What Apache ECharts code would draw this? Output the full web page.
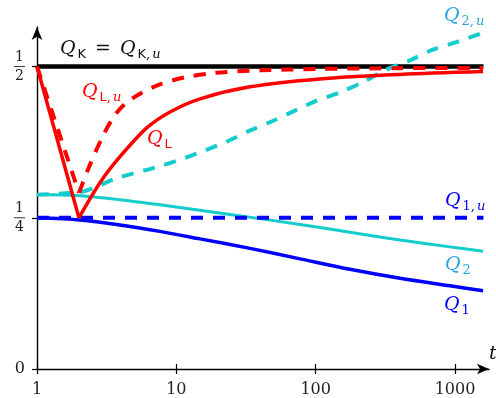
<!DOCTYPE html>
<html><head><meta charset="utf-8">
<script src="https://cdn.jsdelivr.net/npm/echarts@6/dist/echarts.min.js"></script>
<style>html,body{margin:0;padding:0;background:#fff}#c{width:496px;height:398px}</style>
</head><body><div id="c"></div>
<script>
// ---- data ----
const qkT = [1, 1600];
const qkY = [0.5, 0.5];
const q1uT = [1, 1600];
const q1uY = [0.25, 0.25];
const qlDownT = [1, 2];
const qlDownY = [0.5, 0.25];
const qlUpT = [2, 2.83, 3.94, 6.16, 9.01, 14.8, 33.8, 107, 403, 1590];
const qlUpY = [0.25, 0.308, 0.351, 0.399, 0.425, 0.4467, 0.4665, 0.4796, 0.487, 0.4917];
const qluDownT = [1, 2];
const qluDownY = [0.5, 0.2912];
const qluUpT = [2, 2.40, 2.91, 3.51, 4.28, 5.49, 7.63, 11.5, 18.9, 39.9, 107, 403, 1590];
const qluUpY = [0.2912, 0.3379, 0.3807, 0.4154, 0.4384, 0.4549, 0.4706, 0.4821, 0.4895, 0.4937, 0.4961, 0.4973, 0.4978];
const q2uT = [1, 2, 2.48, 3.68, 7.01, 11.3, 23.0, 33.6, 49.2, 73.1, 100, 148.6, 217, 318, 472, 679, 1009, 1590];
const q2uY = [0.288, 0.292, 0.298, 0.315, 0.333, 0.348, 0.376, 0.394, 0.410, 0.4285, 0.443, 0.457, 0.474, 0.4945, 0.510, 0.527, 0.540, 0.556];
const q2T = [1, 2.035, 4.65, 10.6, 24.3, 77.2, 176, 403, 921, 1590];
const q2Y = [0.2884, 0.2863, 0.2777, 0.267, 0.2555, 0.239, 0.2261, 0.2133, 0.2019, 0.1945];
const q1T = [1, 2.035, 3.94, 7.63, 14.8, 33.8, 77.2, 176, 403, 921, 1590];
const q1Y = [0.25, 0.2464, 0.2382, 0.2275, 0.2151, 0.1994, 0.1821, 0.1648, 0.150, 0.1376, 0.1294];
const xTicks = [1, 10, 100, 1000];
const yTicks = [0, 0.25, 0.5];
const yTickLabels = ['0', '1/4', '1/2'];

// ---- helpers ----
const zip = (a, b) => a.map((v, i) => [v, b[i]]);
const RED = '#ff0000', BLUE = '#0000ff', CYAN = '#14cccc', SKY = '#2aa3e6';
const SERIF = 'DejaVu Serif', SANS = 'DejaVu Sans';

function line(name, t, y, color, width, dashed, smooth) {
  return {
    name, type: 'line', data: zip(t, y), showSymbol: false, symbol: 'none',
    smooth: smooth ? 0.3 : false,
    lineStyle: { color, width, type: dashed ? [12, 10] : 'solid', cap: 'butt' },
    silent: true
  };
}

const richQ = {
  q: { fontFamily: SERIF, fontStyle: 'italic', fontSize: 19 },
  s: { fontFamily: SANS, fontSize: 13, padding: [11, 0, 0, 2] },
  n: { fontFamily: SERIF, fontSize: 13, padding: [11, 0, 0, 2] },
  c: { fontFamily: SERIF, fontSize: 13, padding: [11, 1, 0, 0] },
  u: { fontFamily: SERIF, fontStyle: 'italic', fontSize: 13, padding: [11, 0, 0, 1] },
  eq: { fontFamily: SERIF, fontSize: 19, padding: [0, 9, 0, 9] }
};
function label(text, x, y, color) {
  return { type: 'text', x, y, silent: true, z: 100,
    style: { text, fill: color, align: 'left', verticalAlign: 'middle', rich: richQ } };
}

const chart = echarts.init(document.getElementById('c'), null, { renderer: 'canvas' });
const xCommon = { type: 'log', logBase: 10, min: 1, max: 1754, position: 'bottom',
  splitLine: { show: false }, minorTick: { show: false }, minorSplitLine: { show: false } };

chart.setOption({
  animation: false,
  backgroundColor: '#fff',
  grid: { left: 37, right: 7, top: 27, bottom: 28, containLabel: false },
  xAxis: [
    Object.assign({}, xCommon, {
      axisLine: { show: true, lineStyle: { color: '#000', width: 1.4 }, symbol: ['none', 'arrow'], symbolSize: [8, 12] },
      axisTick: { show: true, customValues: xTicks, length: 5, lineStyle: { color: '#000', width: 1.2 } },
      axisLabel: { show: true, customValues: xTicks, fontFamily: SERIF, fontSize: 16, color: '#222', margin: 13,
        formatter: function (v) { return String(Math.round(v)); } }
    }),
    Object.assign({}, xCommon, {
      axisLine: { show: false },
      axisTick: { show: true, inside: true, customValues: xTicks, length: 5, lineStyle: { color: '#000', width: 1.2 } },
      axisLabel: { show: false }
    })
  ],
  yAxis: {
    type: 'value', min: 0, max: 0.5654,
    splitLine: { show: false },
    axisLine: { show: true, lineStyle: { color: '#000', width: 1.4 }, symbol: ['none', 'arrow'], symbolSize: [8, 13] },
    axisTick: { show: true, customValues: yTicks, length: 5, lineStyle: { color: '#000', width: 1.2 } },
    axisLabel: {
      show: true, customValues: yTicks, margin: 12, color: '#222',
      formatter: function (v) {
        let i = yTicks.findIndex(t => Math.abs(t - v) < 1e-9);
        const s = i >= 0 ? yTickLabels[i] : '';
        if (s.indexOf('/') >= 0) {
          const p = s.split('/');
          return '{n|' + p[0] + '}\n{b| }\n{n|' + p[1] + '}';
        }
        return '{z|' + s + '}';
      },
      rich: {
        n: { fontFamily: SERIF, fontSize: 14, lineHeight: 14, align: 'center' },
        b: { width: 11, height: 1, lineHeight: 5, backgroundColor: '#333', align: 'center', fontSize: 1 },
        z: { fontFamily: SERIF, fontSize: 16 }
      }
    }
  },
  series: [
    line('Q_K', qkT, qkY, '#000', 4.5, false, false),
    line('Q_2', q2T, q2Y, CYAN, 3, false, true),
    line('Q_2,u', q2uT, q2uY, CYAN, 4, true, true),
    line('Q_1', q1T, q1Y, BLUE, 3.5, false, true),
    line('Q_1,u', q1uT, q1uY, BLUE, 4, true, false),
    line('Q_L', qlDownT, qlDownY, RED, 3.5, false, false),
    line('Q_L', qlUpT, qlUpY, RED, 3.5, false, true),
    line('Q_L,u', qluDownT, qluDownY, RED, 4, true, false),
    line('Q_L,u', qluUpT, qluUpY, RED, 4, true, true)
  ],
  graphic: [
    label('{q|Q}{s|K}{eq|=}{q|Q}{s|K}{c|,}{u|u}', 60, 49, '#111'),
    label('{q|Q}{s|L}{c|,}{u|u}', 82, 92, RED),
    label('{q|Q}{s|L}', 147, 139, RED),
    label('{q|Q}{n|2}{c|,}{u|u}', 444, 16, SKY),
    label('{q|Q}{n|1}{c|,}{u|u}', 445, 201, BLUE),
    label('{q|Q}{n|2}', 445, 265, SKY),
    label('{q|Q}{n|1}', 444, 305, BLUE),
    { type: 'text', x: 489, y: 354, silent: true, z: 100,
      style: { text: 't', fill: '#111', font: 'italic 19px "DejaVu Serif"', align: 'left', verticalAlign: 'middle' } }
  ]
});
</script>
</body></html>
